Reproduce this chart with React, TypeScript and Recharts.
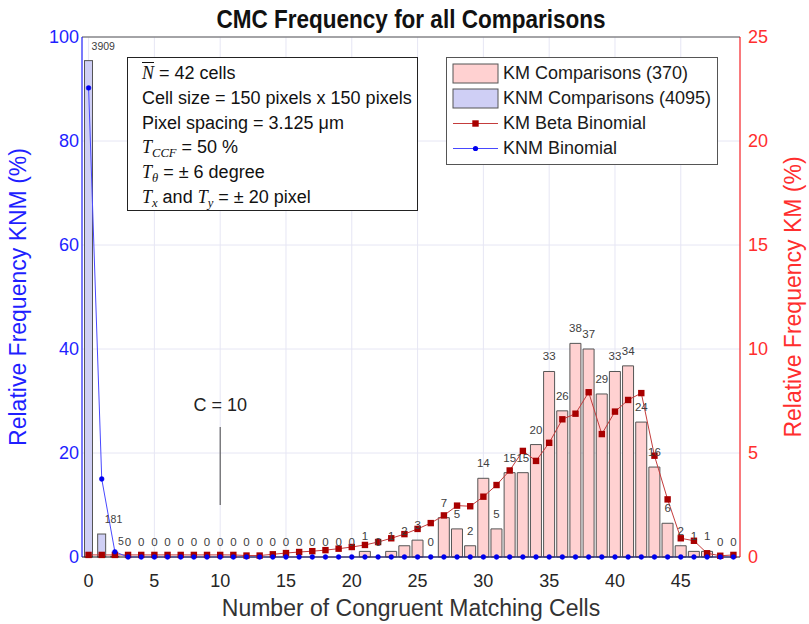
import React from "react";
import {
  Bar,
  ComposedChart,
  CartesianGrid,
  LabelList,
  Legend,
  Line,
  ReferenceDot,
  ReferenceLine,
  XAxis,
  YAxis,
} from "recharts";

// number of congruent matching cells (x categories)
const cells = Array.from({ length: 50 }, (_, i) => i);

// raw counts per CMC value
const kmCounts = [
  0, 0, 0, 0, 0, 0, 0, 0, 0, 0, 0, 0, 0, 0, 0, 0, 0, 0, 0, 0, 0, 1, 0, 1, 2, 3,
  0, 7, 5, 2, 14, 5, 15, 15, 20, 33, 26, 38, 37, 29, 33, 34, 24, 16, 6, 2, 1, 1,
  0, 0,
];
const knmCounts = [
  3909, 181, 5, 0, 0, 0, 0, 0, 0, 0, 0, 0, 0, 0, 0, 0, 0, 0, 0, 0, 0, 0, 0, 0,
  0, 0, 0, 0, 0, 0, 0, 0, 0, 0, 0, 0, 0, 0, 0, 0, 0, 0, 0, 0, 0, 0, 0, 0, 0, 0,
];
const KM_TOTAL = 370;
const KNM_TOTAL = 4095;

// fitted distributions, in percent
const kmBetaBinomial = [
  0.1, 0.1, 0.1, 0.1, 0.1, 0.1, 0.1, 0.1, 0.1, 0.1, 0.1, 0.1, 0.07, 0.07, 0.13,
  0.19, 0.24, 0.28, 0.33, 0.4, 0.48, 0.58, 0.72, 0.9, 1.1, 1.35, 1.63, 2.0, 2.47,
  2.44, 2.9, 3.46, 4.16, 5.1, 4.62, 5.49, 6.62, 6.89, 7.92, 5.91, 6.99, 7.55,
  7.88, 4.87, 2.77, 0.9, 0.78, 0.18, 0.06, 0.1,
];
const knmBinomial = [
  90.2, 15.0, 1.0, 0, 0, 0, 0, 0, 0, 0, 0, 0, 0, 0, 0, 0, 0, 0, 0, 0, 0, 0, 0,
  0, 0, 0, 0, 0, 0, 0, 0, 0, 0, 0, 0, 0, 0, 0, 0, 0, 0, 0, 0, 0, 0, 0, 0, 0, 0,
  0,
];

const xTicks = [0, 5, 10, 15, 20, 25, 30, 35, 40, 45];
const leftTicks = [0, 20, 40, 60, 80, 100];
const rightTicks = [0, 5, 10, 15, 20, 25];

const FONT = "'Liberation Sans', Arial, sans-serif";
const SERIF = "'Liberation Serif', 'DejaVu Serif', serif";

const rows = cells.map((c, i) => ({
  cell: c,
  km: (kmCounts[i] / KM_TOTAL) * 100,
  knm: (knmCounts[i] / KNM_TOTAL) * 100,
  kmLabel: knmCounts[i] > 0 ? null : kmCounts[i],
  knmLabel: knmCounts[i] > 0 ? knmCounts[i] : null,
  beta: kmBetaBinomial[i],
  binom: knmBinomial[i],
}));

// count label placed just above a point (bar top)
const CountLabel = (props: any) => {
  const { x, y, value, shift = 0, anchor = "middle", size = 11.5 } = props;
  if (value === null || value === undefined || x == null || y == null) return null;
  return (
    <text
      x={x + shift}
      y={y - 11}
      textAnchor={anchor}
      fontSize={size}
      fill="#404040"
      fontFamily={FONT}
    >
      {value}
    </text>
  );
};

// KNM bars are drawn a bit narrower than KM bars
const NarrowBar = (props: any) => {
  const { x, y, width, height, fill, stroke } = props;
  if (!height) return null;
  const w = 8;
  return (
    <rect
      x={x + (width - w) / 2}
      y={y}
      width={w}
      height={height}
      fill={fill}
      stroke={stroke}
      strokeWidth={1}
    />
  );
};

const SquareDot = (props: any) => {
  const { cx, cy, index } = props;
  if (cx == null || cy == null) return null;
  return (
    <rect key={index} x={cx - 3.2} y={cy - 3.2} width={6.4} height={6.4} fill="#a80000" />
  );
};

const legendItems = [
  { name: "KM Comparisons (370)", kind: "bar", fill: "#ffd1d1" },
  { name: "KNM Comparisons (4095)", kind: "bar", fill: "#cfcff5" },
  { name: "KM Beta Binomial", kind: "line", color: "#c43c3c", dot: "square" },
  { name: "KNM Binomial", kind: "line", color: "#4848ff", dot: "circle" },
];

const LegendBox = () => (
  <div
    style={{
      width: 270,
      height: 103,
      border: "1px solid #555",
      background: "white",
      fontFamily: FONT,
      fontSize: 18,
      color: "#1a1a1a",
      paddingTop: 3,
      boxSizing: "content-box",
    }}
  >
    {legendItems.map((it) => (
      <div
        key={it.name}
        style={{ height: 25, display: "flex", alignItems: "center" }}
      >
        <svg width={56} height={25} style={{ flex: "none" }}>
          {it.kind === "bar" ? (
            <rect x={6} y={3} width={45} height={19} fill={it.fill} stroke="#555" />
          ) : (
            <g>
              <line x1={6} x2={51} y1={12.5} y2={12.5} stroke={it.color} />
              {it.dot === "square" ? (
                <rect x={25.3} y={9.3} width={6.4} height={6.4} fill="#a80000" />
              ) : (
                <circle cx={28.5} cy={12.5} r={2.6} fill="#0000ee" />
              )}
            </g>
          )}
        </svg>
        <span style={{ whiteSpace: "nowrap" }}>{it.name}</span>
      </div>
    ))}
  </div>
);

const mathT: React.CSSProperties = { fontFamily: SERIF, fontStyle: "italic" };
const subStyle: React.CSSProperties = {
  fontFamily: SERIF,
  fontStyle: "italic",
  fontSize: "0.7em",
  position: "relative",
  top: "0.3em",
};
const boxLine: React.CSSProperties = { height: 24.8, overflow: "visible" };

export default function App() {
  return (
    <div
      style={{
        position: "absolute",
        left: 0,
        top: 0,
        width: 809,
        height: 624,
        background: "white",
      }}
    >
      <div
        style={{
          position: "absolute",
          top: 5,
          left: 0,
          width: 822,
          textAlign: "center",
          fontFamily: FONT,
          fontWeight: "bold",
          fontSize: 25,
          color: "#111",
          zIndex: 2,
        }}
      >
        <span style={{ display: "inline-block", transform: "scaleX(0.9)" }}>
          CMC Frequency for all Comparisons
        </span>
      </div>
      <ComposedChart
        width={809}
        height={624}
        data={rows}
        margin={{ top: 37, right: 9, left: 7, bottom: 5 }}
        barGap={-11}
      >
        <CartesianGrid yAxisId="left" stroke="#e6e6f4" strokeWidth={1} />
        <XAxis
          dataKey="cell"
          type="number"
          domain={[-0.5, 49.5]}
          allowDataOverflow
          ticks={xTicks}
          height={62}
          stroke="#262626"
          tickSize={0}
          tickMargin={17}
          tick={{ fill: "#262626", fontSize: 18, fontFamily: FONT }}
          label={{
            value: "Number of Congruent Matching Cells",
            position: "insideBottom",
            offset: 3,
            fill: "#333",
            fontSize: 23,
            fontFamily: FONT,
          }}
        />
        <XAxis
          xAxisId="innerBottom"
          dataKey="cell"
          type="number"
          domain={[-0.5, 49.5]}
          allowDataOverflow
          ticks={xTicks}
          mirror
          tick={false}
          axisLine={false}
          tickSize={5}
          stroke="#262626"
        />
        <XAxis
          xAxisId="innerTop"
          orientation="top"
          dataKey="cell"
          type="number"
          domain={[-0.5, 49.5]}
          allowDataOverflow
          ticks={xTicks}
          mirror
          tick={false}
          axisLine={false}
          tickSize={5}
          stroke="#262626"
        />
        <YAxis
          yAxisId="left"
          domain={[0, 100]}
          ticks={leftTicks}
          width={75}
          stroke="#0000ff"
          tickSize={0}
          tickMargin={3}
          tick={{ fill: "#1f1fff", fontSize: 18, fontFamily: FONT }}
          label={{
            value: "Relative Frequency KNM (%)",
            angle: -90,
            position: "insideLeft",
            offset: 11,
            fill: "#1f1fff",
            fontSize: 23,
            fontFamily: FONT,
            style: { textAnchor: "middle" },
          }}
        />
        <YAxis
          yAxisId="leftInner"
          domain={[0, 100]}
          allowDataOverflow
          ticks={leftTicks}
          mirror
          tick={false}
          axisLine={false}
          tickSize={5}
          stroke="#0000ff"
        />
        <YAxis
          yAxisId="right"
          orientation="right"
          domain={[0, 25]}
          ticks={rightTicks}
          width={60}
          stroke="#ff0000"
          tickSize={0}
          tickMargin={8}
          tick={{ fill: "#ff2e2e", fontSize: 18, fontFamily: FONT }}
          label={{
            value: "Relative Frequency KM (%)",
            angle: -90,
            position: "insideRight",
            offset: 7,
            fill: "#ff2e2e",
            fontSize: 23,
            fontFamily: FONT,
            style: { textAnchor: "middle" },
          }}
        />
        <YAxis
          yAxisId="rightInner"
          orientation="right"
          domain={[0, 25]}
          allowDataOverflow
          ticks={rightTicks}
          mirror
          tick={false}
          axisLine={false}
          tickSize={5}
          stroke="#ff0000"
        />
        <ReferenceLine yAxisId="left" y={100} stroke="#555" />
        <Legend
          layout="vertical"
          align="center"
          verticalAlign="middle"
          content={() => <LegendBox />}
          wrapperStyle={{ left: 446, top: 57, width: 272, height: 107 }}
        />
        <Bar
          yAxisId="right"
          dataKey="km"
          name="KM Comparisons (370)"
          fill="#ffd1d1"
          stroke="#555"
          strokeWidth={1}
          barSize={11}
          isAnimationActive={false}
        />
        <Bar
          yAxisId="left"
          dataKey="knm"
          name="KNM Comparisons (4095)"
          fill="#cfcff5"
          stroke="#555"
          barSize={11}
          shape={<NarrowBar />}
          isAnimationActive={false}
        />
        {/* invisible series carrying the count labels, so zero counts get labels too */}
        <Line
          yAxisId="right"
          dataKey="km"
          stroke="none"
          dot={false}
          activeDot={false}
          legendType="none"
          isAnimationActive={false}
        >
          <LabelList dataKey="kmLabel" content={<CountLabel />} />
        </Line>
        <Line
          yAxisId="left"
          dataKey="knm"
          stroke="none"
          dot={false}
          activeDot={false}
          legendType="none"
          isAnimationActive={false}
        >
          <LabelList
            dataKey="knmLabel"
            content={<CountLabel shift={3} anchor="start" size={10.5} />}
          />
        </Line>
        <Line
          yAxisId="right"
          dataKey="beta"
          name="KM Beta Binomial"
          stroke="#c43c3c"
          strokeWidth={1}
          dot={<SquareDot />}
          activeDot={false}
          isAnimationActive={false}
        />
        <Line
          yAxisId="left"
          dataKey="binom"
          name="KNM Binomial"
          stroke="#4848ff"
          strokeWidth={1}
          dot={{ r: 2.4, fill: "#0000ee", stroke: "#0000ee", strokeWidth: 0.5 }}
          activeDot={false}
          isAnimationActive={false}
        />
        <ReferenceLine
          yAxisId="left"
          segment={[
            { x: 10, y: 10 },
            { x: 10, y: 25 },
          ]}
          stroke="#444"
        />
        <ReferenceDot
          yAxisId="left"
          x={10}
          y={29.4}
          r={0}
          fill="none"
          stroke="none"
          label={{
            value: "C = 10",
            position: "center",
            fill: "#222",
            fontSize: 18,
            fontFamily: FONT,
          }}
        />
      </ComposedChart>
      <div
        style={{
          position: "absolute",
          left: 127,
          top: 57,
          width: 291,
          height: 154,
          border: "1.5px solid #222",
          background: "white",
          fontFamily: FONT,
          fontSize: 18,
          lineHeight: "24.8px",
          color: "#111",
          paddingTop: 3,
          paddingLeft: 14,
          boxSizing: "border-box",
          whiteSpace: "nowrap",
        }}
      >
        <div style={boxLine}>
          <span style={{ ...mathT, textDecoration: "overline" }}>N</span> = 42 cells
        </div>
        <div style={boxLine}>Cell size = 150 pixels x 150 pixels</div>
        <div style={boxLine}>Pixel spacing = 3.125 μm</div>
        <div style={boxLine}>
          <span style={mathT}>T</span>
          <span style={subStyle}>CCF</span> = 50 %
        </div>
        <div style={boxLine}>
          <span style={mathT}>T</span>
          <span style={subStyle}>θ</span> = ± 6 degree
        </div>
        <div style={boxLine}>
          <span style={mathT}>T</span>
          <span style={subStyle}>x</span> and <span style={mathT}>T</span>
          <span style={subStyle}>y</span> = ± 20 pixel
        </div>
      </div>
    </div>
  );
}
